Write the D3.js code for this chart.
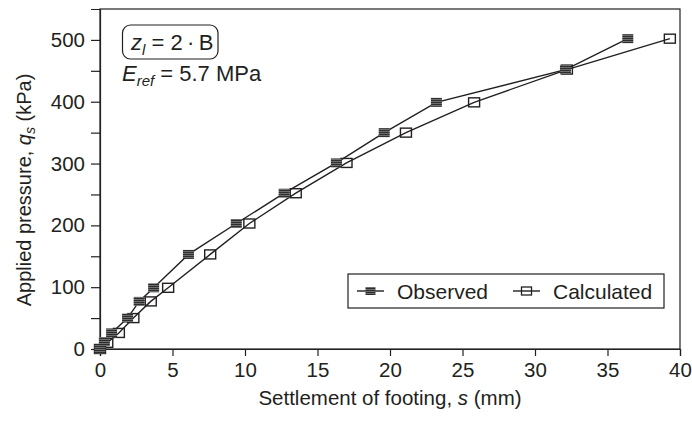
<!DOCTYPE html>
<html>
<head>
<meta charset="utf-8">
<script src="https://cdn.jsdelivr.net/npm/d3@7"></script>
<style>
  html, body { margin: 0; padding: 0; background: #fff; }
  svg { display: block; font-family: "Liberation Sans", Arial, sans-serif; }
</style>
</head>
<body>
<svg id="chart" width="692" height="421"></svg>
<script>
// ---- data ----
const observedS = [0, 0.3, 0.8, 1.9, 2.7, 3.7, 6.1, 9.4, 12.7, 16.3, 19.6, 23.2, 32.1, 36.4];
const observedQ = [0, 12, 26, 50, 77, 99, 153, 203, 252, 301, 350, 399, 452, 502];
const calculatedS = [0, 0.5, 1.3, 2.3, 3.5, 4.7, 7.6, 10.3, 13.5, 17.0, 21.1, 25.8, 32.2, 39.3];
const calculatedQ = [0, 10, 26, 50, 77, 99, 153, 203, 252, 301, 350, 399, 452, 502];
const xTicks = [0, 5, 10, 15, 20, 25, 30, 35, 40];
const yTicks = [0, 100, 200, 300, 400, 500];
const yMinorTicks = [50, 150, 250, 350, 450];
const seriesNames = ["Observed", "Calculated"];

const svg = d3.select("#chart");
const L = 100, R = 680, T = 9, B = 349;
const x = d3.scaleLinear().domain([0, 40]).range([L, R]);
const y = d3.scaleLinear().domain([0, 550]).range([B, T]);
const ink = "#231f20";

// pattern for observed markers
const defs = svg.append("defs");
const pat = defs.append("pattern").attr("id", "stripes")
  .attr("patternUnits", "userSpaceOnUse").attr("width", 4).attr("height", 2);
pat.append("rect").attr("width", 4).attr("height", 2).attr("fill", "#6e6e6e");
pat.append("rect").attr("width", 4).attr("height", 1).attr("fill", "#2e2e2e");

// frame
svg.append("rect").attr("x", L).attr("y", T).attr("width", R - L).attr("height", B - T)
  .attr("fill", "none").attr("stroke", ink).attr("stroke-width", 1.2);

// axes
svg.append("g").attr("transform", `translate(0,${B})`)
  .call(d3.axisBottom(x).tickValues(xTicks).tickSize(7).tickPadding(6).tickFormat(d3.format("d")));
svg.append("g").attr("transform", `translate(${L},0)`)
  .call(d3.axisLeft(y).tickValues(yTicks).tickSize(9).tickPadding(6).tickFormat(d3.format("d")));
svg.append("g").attr("transform", `translate(${L},0)`)
  .call(d3.axisLeft(y).tickValues(yMinorTicks).tickSize(9).tickFormat(""))
  .call(g => g.select(".domain").remove());
svg.selectAll(".domain").attr("stroke", ink).attr("stroke-width", 1.2);
svg.selectAll(".tick line").attr("stroke", ink).attr("stroke-width", 1.2);
svg.selectAll(".tick text").attr("font-size", 20.5).attr("fill", ink)
  .attr("font-family", "Liberation Sans, Arial, sans-serif");

// axis titles
const xt = svg.append("text").attr("x", 390).attr("y", 405).attr("text-anchor", "middle")
  .attr("font-size", 20.5).attr("fill", ink);
xt.append("tspan").text("Settlement of footing, ");
xt.append("tspan").attr("font-style", "italic").text("s");
xt.append("tspan").text(" (mm)");

const yt = svg.append("text").attr("transform", `translate(31,190) rotate(-90)`)
  .attr("text-anchor", "middle").attr("font-size", 20).attr("fill", ink);
yt.append("tspan").text("Applied pressure, ");
yt.append("tspan").attr("font-style", "italic").text("q");
yt.append("tspan").attr("font-style", "italic").attr("font-size", 14).attr("dy", 4).text("s");
yt.append("tspan").attr("dy", -4).text(" (kPa)");

// lines
const line = d3.line().x(d => x(d[0])).y(d => y(d[1]));
const obs = observedS.map((s, i) => [s, observedQ[i]]);
const calc = calculatedS.map((s, i) => [s, calculatedQ[i]]);

svg.append("path").datum(obs).attr("d", line).attr("fill", "none").attr("stroke", ink).attr("stroke-width", 1.4);
svg.append("path").datum(calc).attr("d", line).attr("fill", "none").attr("stroke", ink).attr("stroke-width", 1.4);

const mw = 11, mh = 9;
svg.append("g").selectAll("rect").data(calc).join("rect")
  .attr("x", d => x(d[0]) - mw / 2).attr("y", d => y(d[1]) - mh / 2)
  .attr("width", mw).attr("height", mh)
  .attr("fill", "none").attr("stroke", ink).attr("stroke-width", 1.4);
svg.append("g").selectAll("rect").data(obs).join("rect")
  .attr("x", d => x(d[0]) - mw / 2).attr("y", d => y(d[1]) - mh / 2)
  .attr("width", mw).attr("height", mh)
  .attr("fill", "url(#stripes)").attr("stroke", "none");

// annotation box
svg.append("rect").attr("x", 122.5).attr("y", 25).attr("width", 95.5).attr("height", 34)
  .attr("rx", 8).attr("fill", "#fff").attr("stroke", ink).attr("stroke-width", 1.2);
const zt = svg.append("text").attr("x", 131).attr("y", 50).attr("font-size", 22).attr("fill", ink);
zt.append("tspan").attr("font-style", "italic").text("z");
zt.append("tspan").attr("font-style", "italic").attr("font-size", 15).attr("dy", 5).text("l");
zt.append("tspan").attr("dy", -5).text(" = 2\u2009\u00b7\u2009B");

const et = svg.append("text").attr("x", 122).attr("y", 81).attr("font-size", 22).attr("fill", ink);
et.append("tspan").attr("font-style", "italic").text("E");
et.append("tspan").attr("font-style", "italic").attr("font-size", 15).attr("dy", 5).text("ref");
et.append("tspan").attr("dy", -5).text(" = 5.7 MPa");

// legend
const lg = svg.append("g");
lg.append("rect").attr("x", 348).attr("y", 274).attr("width", 316).attr("height", 34)
  .attr("fill", "#fff").attr("stroke", ink).attr("stroke-width", 1.2);
const legendItems = [
  { name: seriesNames[0], x0: 357, tx: 397, filled: true },
  { name: seriesNames[1], x0: 513, tx: 553, filled: false }
];
legendItems.forEach(it => {
  const cy = 291;
  lg.append("line").attr("x1", it.x0).attr("x2", it.x0 + 27).attr("y1", cy).attr("y2", cy)
    .attr("stroke", ink).attr("stroke-width", 1.4);
  if (it.filled) {
    lg.append("rect").attr("x", it.x0 + 13.5 - 5).attr("y", cy - 4).attr("width", 10).attr("height", 8)
      .attr("fill", "url(#stripes)");
  } else {
    lg.append("rect").attr("x", it.x0 + 13.5 - 5).attr("y", cy - 4).attr("width", 10).attr("height", 8)
      .attr("fill", "none").attr("stroke", ink).attr("stroke-width", 1.3);
  }
  lg.append("text").attr("x", it.tx).attr("y", cy + 7.5).attr("font-size", 21).attr("fill", ink).text(it.name);
});
</script>
</body>
</html>
